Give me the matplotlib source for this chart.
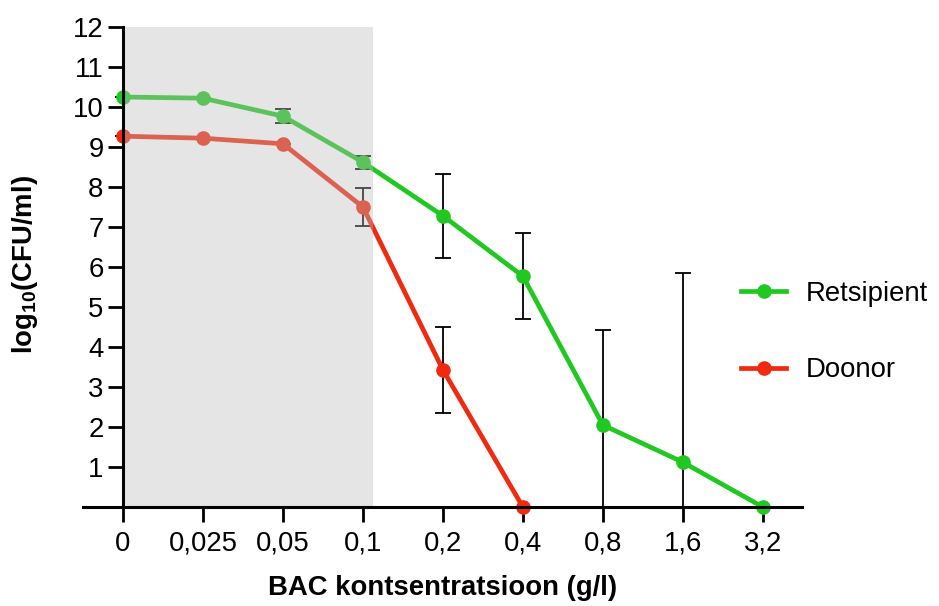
import matplotlib
matplotlib.use("Agg")
import matplotlib.pyplot as plt
from matplotlib.patches import Rectangle

plt.rcParams['font.family'] = ['Liberation Sans', 'DejaVu Sans']
plt.rcParams['mathtext.default'] = 'regular'

categories = ['0', '0,025', '0,05', '0,1', '0,2', '0,4', '0,8', '1,6', '3,2']
retsipient = [10.25, 10.22, 9.77, 8.62, 7.28, 5.77, 2.05, 1.12, 0.0]
retsipient_err = [0.0, 0.0, 0.17, 0.16, 1.05, 1.07, 2.38, 4.72, 0.0]
doonor = [9.27, 9.22, 9.08, 7.50, 3.43]
doonor_err = [0.0, 0.0, 0.0, 0.48, 1.08]
doonor_zero = [0.0]
shade_end = 3.125

green = '#22c822'
red = '#f02a10'
FS = 19.8

fig = plt.figure(figsize=(9.39, 6.06), dpi=100)
ax = fig.add_axes([83/939, 99/606, (802-83)/939, (507-27)/606])

xr = list(range(len(retsipient)))
xd = list(range(len(doonor))) + [len(doonor)]
yd = doonor + doonor_zero

ax.errorbar(xr, retsipient, yerr=retsipient_err, fmt='none', ecolor='black',
            elinewidth=1.3, capsize=6, capthick=1.3, zorder=2)
ax.errorbar(list(range(len(doonor))), doonor, yerr=doonor_err, fmt='none', ecolor='black',
            elinewidth=1.3, capsize=6, capthick=1.3, zorder=2)

ax.plot(xr, retsipient, color=green, lw=3.4, marker='o', ms=9.5,
        label='Retsipient', clip_on=False, zorder=3)
ax.plot(xd, yd, color=red, lw=3.4, marker='o', ms=9.5,
        label='Doonor', clip_on=False, zorder=3)

ax.add_patch(Rectangle((0, 0), shade_end, 12, facecolor=(187/255, 187/255, 187/255),
                       alpha=0.38, edgecolor='none', zorder=4))

ax.set_xlim(-0.5, 8.49)
ax.set_ylim(0, 12)
ax.spines['left'].set_position(('data', 0))
ax.spines['right'].set_visible(False)
ax.spines['top'].set_visible(False)
for s in ('left', 'bottom'):
    ax.spines[s].set_linewidth(2.2)
    ax.spines[s].set_zorder(5)

ax.set_xticks(range(len(categories)))
ax.set_xticklabels(categories)
ax.set_yticks(range(1, 13))
ax.tick_params(axis='both', width=2.0, length=11, labelsize=FS, color='black')
ax.tick_params(axis='x', pad=6)
ax.tick_params(axis='y', pad=3)

ax.set_xlabel('BAC kontsentratsioon (g/l)', fontsize=FS, fontweight='bold', labelpad=13)
fig.text(25/939, 1 - 265/606, 'log$_{10}$(CFU/ml)', fontsize=FS, fontweight='bold',
         rotation=90, ha='center', va='center')

ax.legend(loc='center left', bbox_to_anchor=(741/939, 1 - 332/606), bbox_transform=fig.transFigure,
          frameon=False, fontsize=FS, handlelength=1.65, handletextpad=0.7, labelspacing=1.85,
          borderaxespad=0, borderpad=0)

fig.savefig('out.png', dpi=100)
